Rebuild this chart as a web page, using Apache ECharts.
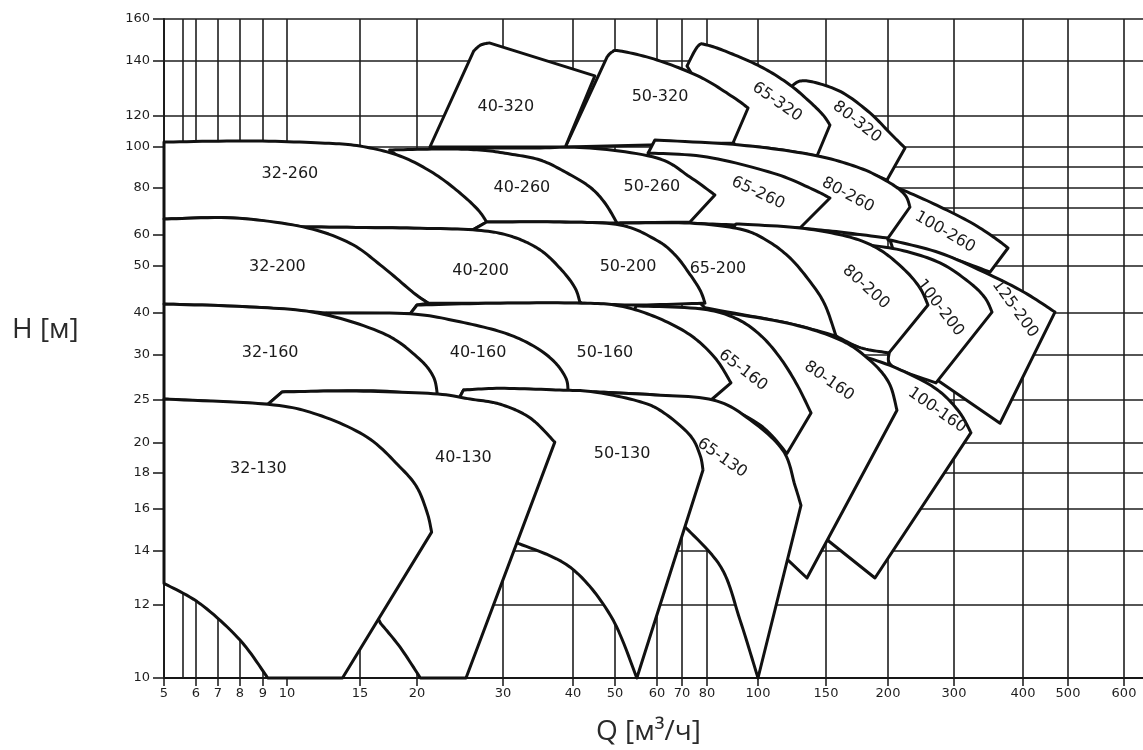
<!DOCTYPE html>
<html>
<head>
<meta charset="utf-8">
<script src="https://cdn.jsdelivr.net/npm/echarts@6/dist/echarts.min.js"></script>
<style>
  html, body { margin: 0; padding: 0; background: #fff; }
  #chart { width: 1143px; height: 750px; }
</style>
</head>
<body>
<div id="chart"></div>
<script>
// Q axis (m³/h): tick values, their place on the chart's own Q scale, and their labels
const qTicks = [5, 5.5, 6, 7, 8, 9, 10, 15, 20, 30, 40, 50, 60, 70, 80, 100, 150, 200, 300, 400, 500, 600];
const qTickPos = [0, 19, 32, 54, 76, 99, 123, 196, 253, 339, 409, 451, 493, 518, 543, 594, 662, 724, 790, 859, 904, 960];
const qLabels = ['5', '', '6', '7', '8', '9', '10', '15', '20', '30', '40', '50', '60', '70', '80', '100', '150', '200', '300', '400', '500', '600'];
const qScaleEnd = 979;

// H axis (m): tick values, their place on the chart's own H scale, and their labels
const hTicks = [10, 12, 14, 16, 18, 20, 25, 30, 40, 50, 60, 70, 80, 90, 100, 120, 140, 160];
const hTickPos = [0, 73, 127, 169, 205, 235, 278, 323, 365, 412, 443, 470, 490, 511, 531, 562, 617, 659];
const hLabels = ['10', '12', '14', '16', '18', '20', '25', '30', '40', '50', '60', '', '80', '', '100', '120', '140', '160'];

// Working fields of each pump size: outline points [Q, H], a third value 1 marks a sharp corner
const pump80_320 = [[143.4,95.5,1],[123.5,130.2,1],[130.9,132.7],[143.4,132],[163.7,128.4],[185.5,121.1],[203,109],[225.8,99.5,1],[199.2,83.8,1],[169.3,90.5]];
const pump65_320 = [[91,101.3,1],[72,138.2,1],[76.4,147.1],[80,147.6],[89,143.8],[103.7,137.5],[123.5,131.3],[138.2,125.1],[147.8,120.4],[153.2,114.2,1],[143.4,95.5,1],[112.5,99]];
const pump50_320 = [[38.9,100,1],[48.1,141.9,1],[49.3,144.3],[51.2,144.8],[60,140.5],[77.2,134.2],[90.2,126.9],[96.1,122.9,1],[90.2,102.6,1]];
const pump40_320 = [[21.5,100,1],[26.6,144.8,1],[27.4,147.6],[28.4,148.6,1],[45.2,134.6,1],[38.9,100,1]];

const pump100_260 = [[185.5,85.7,1],[207.6,81],[263.6,73],[323.2,64.8],[359.4,59],[378.3,55.8,1],[352.2,48.7,1],[278.8,53.9],[200,58.4,1]];
const pump80_260 = [[57.9,97,1],[59.5,104.5,1],[92.9,101.3],[140.4,96],[177.4,89.5],[203,82.4],[225.8,76.5],[233.3,70.5,1],[200,59,1],[161.3,61.1],[130.9,62.6,1],[77.2,67.4,1]];
const pump65_260 = [[57.9,97,1],[80,95],[111,87.1],[138.2,80],[153.2,75,1],[130.9,62.6,1],[91,63.7],[73.2,64.4,1],[58.3,91,1]];
const pump50_260 = [[26.2,99.5,1],[33.9,99.5],[44,99.5],[60,94.5],[73.2,85.2],[83.1,76.5,1],[73.2,64.8,1],[50.5,64.4,1]];
const pump40_260 = [[17.6,98.5,1],[22.7,99],[27.3,98.5],[31,96.5],[35.3,93.5],[38.9,87.6],[44,80.5],[47.6,72.5],[50.5,64.4,1],[38.1,64.8],[28.1,64.8,1]];
const pump32_260 = [[5,103.2,1],[8.4,103.9],[12.3,102.6],[15,100.6],[18.5,95.5],[21.9,87.1],[25,77.5],[27.1,69.3],[28.1,64.8,1],[26.5,61.9,1],[18.5,62.6],[11.1,63,1],[7.7,66.3],[5,65.9,1]];

const pump125_200 = [[203,58.4,1],[278.8,54.2],[352.2,48.1],[404.4,44.3],[471,40.2,1],[366.7,22.3,1],[271.2,27.4,1]];
const pump100_200 = [[177.4,57.1,1],[218.2,55.2],[278.8,51],[323.2,46.4],[345,43.2],[355.1,40.2,1],[272.7,26.9,1],[207.6,28.7],[201.5,30.5,1]];
const pump80_200 = [[90.2,62.6,1],[91.4,64.1,1],[130.9,62.6],[169.3,59.3],[193.5,55.2],[225.8,49.1],[248.5,45.3],[260.6,41.7,1],[201.5,30.5,1],[178.2,31.7],[158.1,34.5,1]];
const pump65_200 = [[51.2,64.4,1],[73.2,64.4],[92.9,62.2],[105.9,58.4],[123.5,52.6],[139,46.4],[149.3,41.7],[158.1,34.5,1],[121.3,37.6],[79.2,41.1,1]];
const pump50_200 = [[26.5,61.9,1],[28.1,64.8,1],[38.1,64.8],[51.2,63.7],[59.8,58.4],[67.2,53.6],[72.8,48.5],[77.2,44.9],[79.2,42.1,1],[54.8,41.7],[42.1,42.1,1]];
const pump40_200 = [[11.1,63,1],[18.5,62.6],[26.5,61.9],[31,59.7],[35.3,55.2],[38.4,49.1],[40.5,45.3],[41.7,42.1,1],[29.7,42.1],[21.3,42.1,1]];
const pump32_200 = [[5,65.9,1],[7.7,66.3],[11.1,63],[14.3,57.4],[17,49.8],[19.7,44.3],[21.3,42.1,1],[20,41.7,1],[19.4,39.8,1],[12.7,40,1],[8.4,41.3],[5,41.9,1]];

const pump100_160 = [[169.3,30.7,1],[207.6,28.7],[269.7,26.4],[305.8,23.8],[324.6,21.2,1],[189.5,13,1],[151.6,14.5,1],[153.2,19.5,1]];
const pump80_160 = [[77.2,40.9,1],[121.3,37.6],[161.3,33.6],[185.5,29.4],[201.5,26.9],[213.6,23.8,1],[136,13,1],[121.3,13.7,1],[118.4,19.5,1]];
const pump65_160 = [[54.3,39.8,1],[55,41.5,1],[77.2,40.9],[91,38.8],[101.5,34.8],[116.2,29.7],[128.7,26.7],[139,23.5,1],[121.3,19.3,1],[101.5,22.1],[82.4,25,1]];
const pump50_160 = [[19.4,39.8,1],[20,41.7,1],[29.7,42.1],[42.1,42.1],[51.2,41.5],[59.8,39],[73.2,34.8],[83.1,29.7],[89.4,26.9,1],[81.6,25,1],[58.3,25.6],[45,25.9,1],[39.3,26,1]];
const pump40_160 = [[12.7,40,1],[19.4,39.8],[25,37.9],[30.3,35.2],[34.6,31.9],[37.4,29.2],[39,27.4],[39.3,26,1],[32.4,26.2],[25.4,26.1,1],[24.8,25,1],[22.4,25.3,1]];
const pump32_160 = [[5,41.9,1],[8.4,41.3],[12.1,40],[17,35.2],[20,29.8],[21.9,27.6],[22.4,25.3,1],[16.8,26],[9.8,25.9,1],[9.2,24.5,1],[6.2,24.9],[5,25.1,1]];

const pump65_130 = [[45,25.9,1],[58.3,25.6],[82.4,25],[96.9,22.7],[118.4,19.5],[127.2,17.3],[131.6,16.2,1],[100,10,1],[92.9,11.6],[85.5,13.4],[70.8,15.2,1]];
const pump50_130 = [[24.8,25,1],[25.4,26.1,1],[29.7,26.3],[38.1,26.1],[45,25.9],[56,24.8],[62.8,23.5],[73.2,20.9],[77.2,19.2],[78.4,18.2,1],[55.2,10,1],[49,11.7],[39.6,13.4],[31.9,14.4,1]];
const pump40_130 = [[9.2,24.5,1],[9.8,25.9,1],[14.3,26],[21.9,25.7],[26.2,25.1],[29.7,24.5],[33.9,22.9],[37.4,20.1,1],[25.7,10,1],[20.4,10,1],[18.5,10.85],[16.8,11.5,1]];
const pump32_130 = [[5,25.1,1],[9.2,24.5],[12.1,23.3],[15.6,20.7],[18.5,18.4],[20,17.2],[21.2,15.8],[21.7,14.9,1],[13.8,10,1],[9.2,10,1],[8,11.04],[6.2,12.04],[5,12.8,1]];

// Pump sizes in drawing order (sizes further left/lower lie on top)
const pumpNames = ['80-320','65-320','50-320','40-320',
  '100-260','80-260','65-260','50-260','40-260','32-260',
  '125-200','100-200','80-200','65-200','50-200','40-200','32-200',
  '100-160','80-160','65-160','50-160','40-160','32-160',
  '65-130','50-130','40-130','32-130'];
const pumpOutlines = [pump80_320, pump65_320, pump50_320, pump40_320,
  pump100_260, pump80_260, pump65_260, pump50_260, pump40_260, pump32_260,
  pump125_200, pump100_200, pump80_200, pump65_200, pump50_200, pump40_200, pump32_200,
  pump100_160, pump80_160, pump65_160, pump50_160, pump40_160, pump32_160,
  pump65_130, pump50_130, pump40_130, pump32_130];

// Name tag of each field: anchor [Q, H] and slant in degrees (same order as pumpNames)
const labelAnchors = [[175,116.1],[114,125.1],[61.2,126.9],[30.4,123.5],
  [286.4,61.1],[167.7,76.5],[100,77.5],[58.8,80.5],[32.7,80],[10.2,86.7],
  [388.4,40.9],[278.8,41.1],[182.2,45.5],[84.3,49.4],[53.1,49.8],[27.4,48.9],[9.6,49.8],
  [274.2,23.8],[152.4,27.1],[94.1,28.3],[47.6,30.5],[27.1,30.5],[9.3,30.5],
  [85.9,19],[51.7,19.3],[25.4,19],[8.8,18.3]];
const labelSlants = [38, 35, 0, 0,
  30, 28, 25, 0, 0, 0,
  54, 52, 42, 0, 0, 0, 0,
  35, 35, 38, 0, 0, 0,
  35, 0, 0, 0];

// piecewise scale between neighbouring ticks
function toScale(v, ticks, pos) {
  const n = ticks.length - 1;
  for (let i = 0; i < n; i++) {
    if (v <= ticks[i + 1]) {
      return pos[i] + (v - ticks[i]) / (ticks[i + 1] - ticks[i]) * (pos[i + 1] - pos[i]);
    }
  }
  return pos[n] + (v - ticks[n]) / (ticks[n] - ticks[n - 1]) * (pos[n] - pos[n - 1]);
}
const qs = q => toScale(q, qTicks, qTickPos);
const hs = h => toScale(h, hTicks, hTickPos);

// Catmull-Rom through the points between two corners
function appendRun(out, run) {
  if (run.length === 2) { out.push(run[1]); return; }
  const m = run.length - 1;
  for (let s = 0; s < m; s++) {
    const p0 = run[Math.max(s - 1, 0)], p1 = run[s], p2 = run[s + 1], p3 = run[Math.min(s + 2, m)];
    for (let t = 1; t <= 12; t++) {
      const u = t / 12, u2 = u * u, u3 = u2 * u;
      const f = k => 0.5 * (2 * p1[k] + (-p0[k] + p2[k]) * u +
        (2 * p0[k] - 5 * p1[k] + 4 * p2[k] - p3[k]) * u2 +
        (-p0[k] + 3 * p1[k] - 3 * p2[k] + p3[k]) * u3);
      out.push([f(0), f(1)]);
    }
  }
}
function outlinePath(pts, corner) {
  const n = pts.length;
  const out = [pts[0]];
  let run = [pts[0]];
  for (let k = 1; k <= n; k++) {
    const i = k % n;
    run.push(pts[i]);
    if (corner[i] || k === n) {
      appendRun(out, run);
      run = [pts[i]];
    }
  }
  return out;
}

// grid lines in scale units: [x1, y1, x2, y2]
const gridLines = [];
qTicks.forEach(q => gridLines.push([qs(q), 0, qs(q), hTickPos[hTickPos.length - 1]]));
hTicks.slice(1).forEach(h => {
  const startQ = h < 16 ? 20 : 5;   // low heads are only ruled from 20 m³/h onward
  gridLines.push([qs(startQ), hs(h), qScaleEnd, hs(h)]);
});

const labeledQ = qTickPos.filter((p, i) => qLabels[i] !== '');
const labeledH = hTickPos.filter((p, i) => hLabels[i] !== '');
function labelFor(val, pos, labels) {
  for (let i = 0; i < pos.length; i++) if (Math.abs(pos[i] - val) < 0.5) return labels[i];
  return '';
}

const tickFont = { fontFamily: 'DejaVu Sans', fontSize: 13, color: '#1e1e1e' };
const lineColor = '#161616';

const chart = echarts.init(document.getElementById('chart'), null, { renderer: 'canvas' });
chart.setOption({
  animation: false,
  backgroundColor: '#ffffff',
  grid: { left: 164, right: 0, top: 19, bottom: 72 },
  xAxis: {
    type: 'value', min: 0, max: qScaleEnd,
    axisLine: { show: true, lineStyle: { color: lineColor, width: 2 } },
    axisTick: { show: true, customValues: labeledQ, length: 8, lineStyle: { color: lineColor, width: 1.5 } },
    axisLabel: Object.assign({ customValues: labeledQ, margin: 9,
      formatter: v => labelFor(v, qTickPos, qLabels) }, tickFont),
    splitLine: { show: false }
  },
  yAxis: {
    type: 'value', min: 0, max: hTickPos[hTickPos.length - 1],
    axisLine: { show: true, lineStyle: { color: lineColor, width: 2 } },
    axisTick: { show: true, customValues: labeledH, length: 11, lineStyle: { color: lineColor, width: 1.5 } },
    axisLabel: Object.assign({ customValues: labeledH, margin: 14,
      formatter: v => labelFor(v, hTickPos, hLabels) }, tickFont),
    splitLine: { show: false }
  },
  graphic: [
    { type: 'text', left: 12, top: 316, style: { text: 'H [м]', font: '400 28px "Open Sans"', fill: '#2a2a2a' } },
    { type: 'text', left: 596, top: 718, style: { text: 'Q [м³/ч]', font: '400 28px "Open Sans"', fill: '#2a2a2a' } }
  ],
  series: [
    {
      type: 'custom', silent: true, z: 1,
      data: gridLines,
      renderItem: (params, api) => {
        const a = api.coord([api.value(0), api.value(1)]);
        const b = api.coord([api.value(2), api.value(3)]);
        return { type: 'line', shape: { x1: a[0], y1: a[1], x2: b[0], y2: b[1] },
          style: { stroke: '#1e1e1e', lineWidth: 1.6 } };
      }
    },
    {
      type: 'custom', silent: true, z: 3,
      data: pumpOutlines.map((o, i) => [0, 0, i]),
      renderItem: (params, api) => {
        const outline = pumpOutlines[params.dataIndex];
        const pts = outline.map(p => api.coord([qs(p[0]), hs(p[1])]));
        const corner = outline.map(p => p[2] === 1);
        return { type: 'polygon', z2: params.dataIndex,
          shape: { points: outlinePath(pts, corner) },
          style: { fill: '#ffffff', stroke: '#111111', lineWidth: 3, lineJoin: 'round' } };
      }
    },
    {
      type: 'custom', silent: true, z: 5,
      data: labelAnchors.map((a, i) => [qs(a[0]), hs(a[1]), i]),
      renderItem: (params, api) => {
        const i = params.dataIndex;
        const c = api.coord([api.value(0), api.value(1)]);
        return { type: 'text', x: c[0], y: c[1], rotation: -labelSlants[i] * Math.PI / 180,
          style: { text: pumpNames[i], fill: '#1a1a1a', font: '16px "DejaVu Sans"',
            align: 'center', verticalAlign: 'middle' } };
      }
    }
  ]
});
</script>
</body>
</html>
